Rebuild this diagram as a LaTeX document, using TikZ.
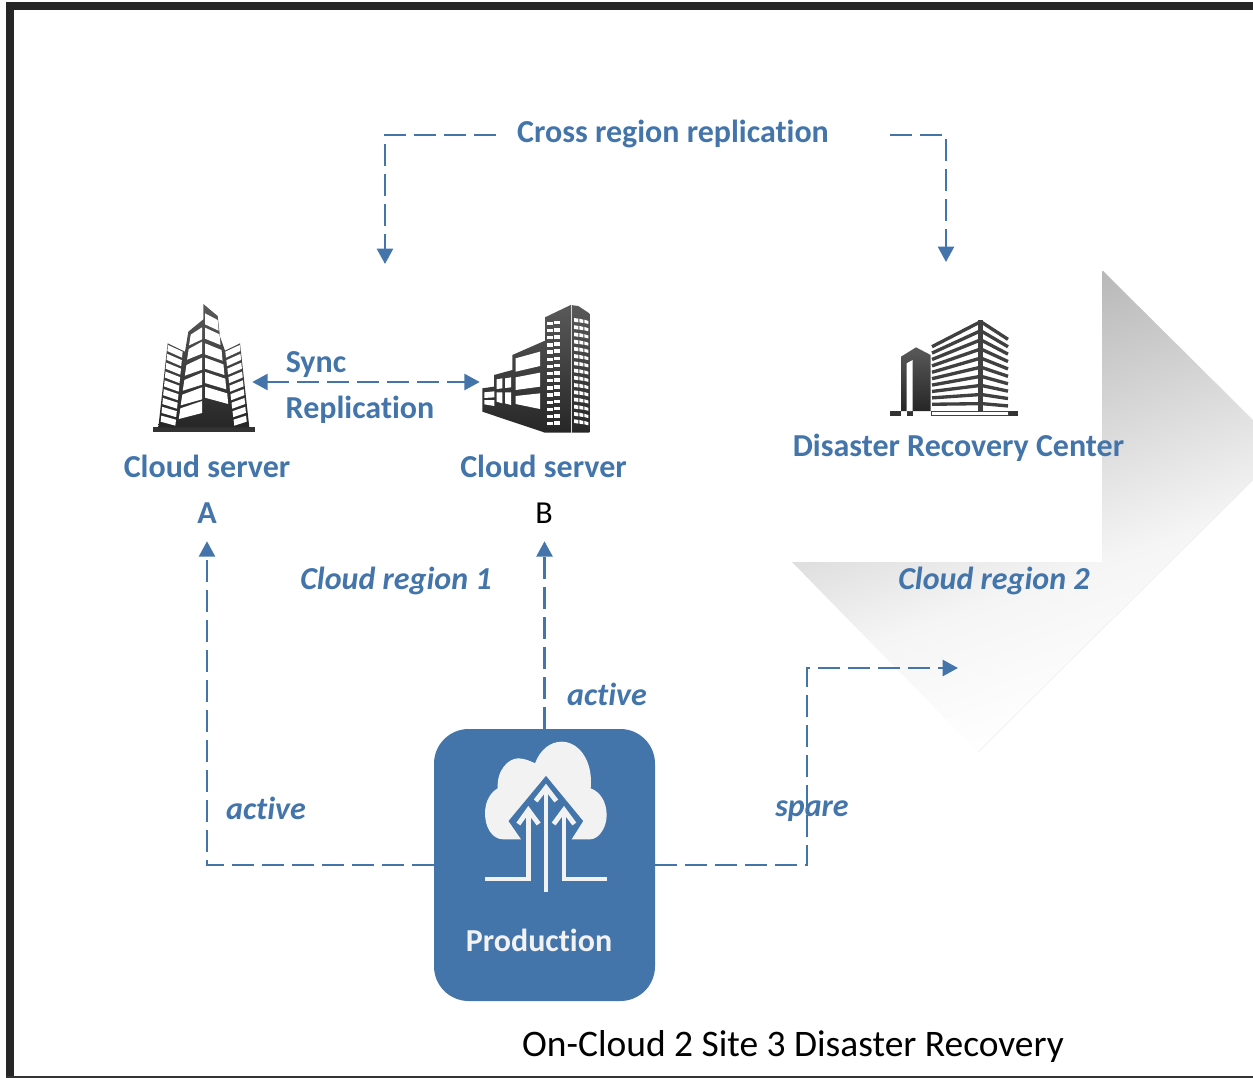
\documentclass[tikz,border=0pt]{standalone}
\usepackage{fontspec}
\setmainfont{Carlito}[Ligatures=NoCommon]
\usetikzlibrary{arrows.meta}
\definecolor{blu}{HTML}{4375AB}
\definecolor{ice}{HTML}{F2F2F2}
\definecolor{g1}{HTML}{F8F8F8}
\definecolor{g2}{HTML}{F5F5F5}
\definecolor{g3}{HTML}{B8B8B8}
\pgfdeclareverticalshading{regshade}{1500bp}{color(0bp)=(white); color(76bp)=(g1); color(109bp)=(g2); color(315bp)=(g3)}
\tikzset{
  lbl/.style={text=blu,font=\bfseries\fontsize{24}{28}\selectfont,inner sep=0pt},
  ilbl/.style={text=blu,font=\bfseries\itshape\fontsize{24}{28}\selectfont,inner sep=0pt},
  plainline/.style={draw=blu,line width=1.8pt,dash pattern=on 16.5pt off 6pt},
  dashline/.style={plainline,-{Triangle[length=11.5pt,width=12pt]}},
  bothline/.style={plainline,{Triangle[length=11.5pt,width=12pt]}-{Triangle[length=11.5pt,width=12pt]}},
  zoomA/.style={shift={(130,290)},x=0.25pt,y=-0.25pt},
  zoomC/.style={shift={(870,300)},x=0.25pt,y=-0.25pt},
  zoomP/.style={shift={(420,720)},x=0.25pt,y=-0.25pt},
  bldg/.style={top color=black!65,bottom color=black!85,draw=none},
  win/.style={fill=white,draw=none},
  chev/.style={draw=ice,line width=3.6pt,miter limit=10}
}
\begin{document}
\begin{tikzpicture}[x=0.75pt,y=-0.75pt]
\useasboundingbox (0,0) rectangle (1253,1078);
\fill[white] (0,0) rectangle (1253,1078);
% frame
\fill[black!85] (6,2) rectangle (1253,10);
\fill[black!85] (6,2) rectangle (14,1078);
\fill[black!80] (6,1076) rectangle (1253,1078);
% gradient region
\begin{scope}
\clip (1102,270) -- (1253,420) -- (1253,480) -- (978,752) -- (792,562) -- (1102,562) -- cycle;
\node[rotate=19.5,anchor=north,inner sep=0pt] (regionshade) at (1102,270) {\pgfuseshading{regshade}};
\end{scope}
\draw[black!6,line width=.5pt] (1253,480) -- (978,752);
% building A
\begin{scope}[zoomA]
\fill[black!80] (68,412) rectangle (375,426);
\shade[bldg] (85,412) -- (113,160) -- (165,185) -- (175,125) -- (220,88) -- (220,42) -- (263,78) -- (270,140) -- (285,182) -- (330,160) -- (358,412) -- cycle;
\foreach \i/\yy in {0/112,1/155,2/203,3/248,4/292,5/333}{
  \pgfmathsetmacro{\xa}{182-(\yy+22-135)*0.14}
  \pgfmathsetmacro{\xb}{182-(\yy+57-135)*0.14}
  \fill[win] (216,\yy) -- (216,\yy+36) -- (\xb,\yy+54) -- (\xa,\yy+22) -- cycle;
}
\foreach \i/\yy in {0/70,1/113,2/160,3/203,4/246,5/290}{
  \pgfmathsetmacro{\xa}{263+(\yy-70)*0.13}
  \pgfmathsetmacro{\xb}{266+(\yy-70)*0.13}
  \fill[win] (225,\yy) -- (225,\yy+33) -- (\xb,\yy+52) -- (\xa,\yy+20) -- cycle;
}
\foreach \i in {0,...,8}{
  \pgfmathsetmacro{\yy}{165+\i*26.5}
  \pgfmathsetmacro{\xa}{114-\i*2.5}
  \pgfmathsetmacro{\xb}{158-\i*2.5}
  \fill[win] (\xa,\yy) -- (\xb,\yy+20-\i) -- (\xb-2,\yy+38-\i) -- (\xa-2,\yy+18) -- cycle;
  \pgfmathsetmacro{\xc}{286+\i*3.1}
  \pgfmathsetmacro{\xd}{329+\i*2.4}
  \fill[win] (\xd,\yy) -- (\xc,\yy+20-\i) -- (\xc+2,\yy+38-\i) -- (\xd+2,\yy+18) -- cycle;
}
\end{scope}
% building B
\begin{scope}[zoomA]
\shade[bldg] (1378,428) -- (1245,428) -- (1057,365) -- (1057,295) -- (1092,290) -- (1092,255) -- (1147,240) -- (1147,195) -- (1245,152) -- (1245,82) -- (1322,45) -- (1345,48) -- (1378,70) -- cycle;
\fill[white!85!black] (1322,45) rectangle (1326,428);
\fill[win] (1157,205) -- (1230,185) -- (1230,228) -- (1157,245) -- cycle;
\fill[win] (1157,262) -- (1230,248) -- (1230,290) -- (1157,300) -- cycle;
\fill[win] (1157,318) -- (1230,310) -- (1230,357) -- (1157,342) -- cycle;
\fill[win] (1100,268) -- (1117,265) -- (1117,295) -- (1100,297) -- cycle;
\fill[win] (1125,265) -- (1143,262) -- (1143,292) -- (1125,294) -- cycle;
\fill[win] (1100,307) -- (1117,307) -- (1117,340) -- (1100,335) -- cycle;
\fill[win] (1125,307) -- (1143,307) -- (1143,345) -- (1125,340) -- cycle;
\fill[win] (1063,307) -- (1093,304) -- (1093,322) -- (1063,324) -- cycle;
\fill[win] (1063,330) -- (1093,330) -- (1093,348) -- (1063,343) -- cycle;
\foreach \i in {0,...,14}{
  \pgfmathsetmacro{\yy}{92+\i*21.5}
  \fill[win] (1252,\yy+3) rectangle (1268,\yy+13);
  \fill[win] (1273,\yy) rectangle (1291,\yy+11);
  \pgfmathsetmacro{\yr}{\yy-8+\i*0.2}
  \fill[win] (1332,\yr) -- (1345,\yr+2) -- (1345,\yr+13) -- (1332,\yr+11) -- cycle;
  \fill[win] (1348,\yr+2) -- (1360,\yr+5) -- (1360,\yr+15) -- (1348,\yr+13) -- cycle;
  \fill[win] (1363,\yr+5) -- (1375,\yr+9) -- (1375,\yr+18) -- (1363,\yr+15) -- cycle;
}
\end{scope}
% building C
\begin{scope}[zoomC]
\fill[black!80] (60,333) rectangle (93,347);
\fill[black!80] (110,333) rectangle (128,347);
\fill[black!80] (182,333) rectangle (186,347);
\fill[black!80] (415,333) rectangle (443,347);
\draw[black!75,line width=.9pt] (185,334) rectangle (415,346);
\shade[bldg] (93,170) -- (138,142) -- (182,165) -- (182,333) -- (93,333) -- cycle;
\fill[win] (110,190) -- (128,180) -- (128,333) -- (110,333) -- cycle;
\fill[black!75] (325,60) -- (338,60) -- (338,333) -- (325,333) -- cycle;
\foreach \i in {0,...,9}{
  \draw[black!75,line width=2.5pt] (186,140+\i*19.2) -- (326,68+\i*27);
  \draw[black!75,line width=2.5pt] (337,68+\i*27) -- (414,118+\i*22.2);
}
\end{scope}
% anchors for connectors
\node[minimum width=76.5pt,minimum height=96pt,inner sep=0pt] (bldA) at (201,368) {};
\node[minimum width=81pt,minimum height=96pt,inner sep=0pt] (bldB) at (534,368) {};
\coordinate (syncy) at (0,382);
\coordinate (crossL) at (496,135);
\coordinate (crossR) at (890,135);
\coordinate (crossLcorner) at (385,135);
\coordinate (crossRcorner) at (946,135);
\coordinate (crossLend) at (385,264);
\coordinate (crossRend) at (946,262);
\coordinate (spareCorner) at (807,668);
\coordinate (spareEnd) at (958,668);
% labels
\node[lbl] (cross) at (673,134) {Cross region replication};
\node[lbl] (sync) at (316,365) {Sync};
\node[lbl] (repl) at (360,410) {Replication};
\node[lbl] (csA) at (207,466) {Cloud server};
\node[lbl] (csB) at (543.5,466) {Cloud server};
\node[lbl,minimum height=42pt] (labA) at (207,513) {A};
\node[font=\fontsize{24}{28}\selectfont,inner sep=0pt,minimum height=42pt] (labB) at (544,513) {B};
\node[lbl] (drc) at (958.5,448) {Disaster Recovery Center};
\node[ilbl] (cr1) at (396,581) {Cloud region 1};
\node[ilbl] (cr2) at (994,581) {Cloud region 2};
\node[ilbl] (act1) at (607,694) {active};
\node[ilbl] (act2) at (266,808) {active};
\node[font=\fontsize{28.1}{32}\selectfont,inner sep=0pt] (title) at (793,1046) {On-Cloud 2 Site 3 Disaster Recovery};
% connectors
\draw[dashline] (crossL) -- (crossLcorner) -- (crossLend);
\draw[dashline] (crossR) -- (crossRcorner) -- (crossRend);
\draw[bothline] (bldA.east |- syncy) -- (bldB.west |- syncy);
\node[minimum width=165.75pt,minimum height=204pt,inner sep=0pt] (prodanchor) at (544.5,865) {};
\draw[dashline] (prodanchor.west) -| (labA.south);
\draw[dashline] (prodanchor.north) -- (prodanchor.north |- labB.south);
\draw[dashline] (prodanchor.east) -| (spareCorner) -- (spareEnd);
\node[ilbl] (spare) at (812,811) {spare};
% production
\node[fill=blu,draw=none,rounded corners=26pt,minimum width=165.75pt,minimum height=204pt,inner sep=0pt] (prod) at (544.5,865) {};
\begin{scope}[zoomP]
\fill[ice] (303,358) -- (250,358) .. controls (215,358) and (195,320) .. (195,280) .. controls (195,240) and (215,215) .. (233,205) .. controls (230,150) and (265,115) .. (295,115) .. controls (315,115) and (335,125) .. (345,130) .. controls (360,90) and (390,65) .. (425,65) .. controls (475,65) and (520,120) .. (512,205) .. controls (540,215) and (560,245) .. (560,285) .. controls (560,325) and (535,358) .. (510,358) -- (455,358) -- (490,303) -- (378,167) -- (265,303) -- cycle;
\draw[chev] (378,515) -- (378,205);
\draw[chev] (347,243) -- (378,203) -- (409,243);
\draw[chev] (195,477) -- (325,477) -- (325,270);
\draw[chev] (295,312) -- (325,270) -- (356,312);
\draw[chev] (562,477) -- (432,477) -- (432,270);
\draw[chev] (401,312) -- (432,270) -- (463,312);
\end{scope}
\node[text=ice,font=\bfseries\fontsize{24}{28}\selectfont,inner sep=0pt] (prodlabel) at (539,940) {Production};
\end{tikzpicture}
\end{document}
